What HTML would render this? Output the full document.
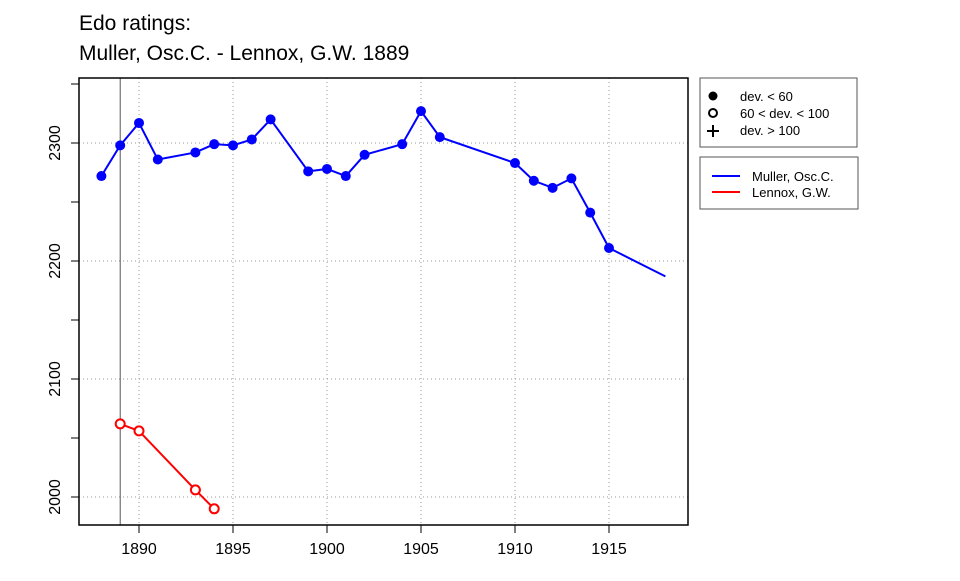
<!DOCTYPE html>
<html><head><meta charset="utf-8"><style>
body{margin:0;background:#fff;font-family:"Liberation Sans",Arial,sans-serif}
svg text{font-family:"Liberation Sans",Arial,sans-serif}
</style></head><body>
<svg id="chart" width="960" height="576" xmlns="http://www.w3.org/2000/svg">
<text x="79" y="30" font-size="21">Edo ratings:</text>
<text x="79" y="60" font-size="21">Muller, Osc.C. - Lennox, G.W. 1889</text>
<g id="grid"></g><g id="axes"></g><g id="series"></g>
<rect x="79" y="78" width="609" height="447" fill="none" stroke="#000" stroke-width="1.5"/>
<g>
<rect x="700" y="78" width="157" height="69" fill="#fff" stroke="#555"/>
<circle cx="713" cy="96" r="4.5" fill="#000"/>
<text x="740" y="101" font-size="13">dev. &lt; 60</text>
<circle cx="713" cy="113" r="4" fill="none" stroke="#000" stroke-width="2"/>
<text x="740" y="118" font-size="13">60 &lt; dev. &lt; 100</text>
<path d="M707 131H719M713 125V137" stroke="#000" stroke-width="2"/>
<text x="740" y="135" font-size="13">dev. &gt; 100</text>
</g>
<g>
<rect x="700" y="157" width="158" height="52" fill="#fff" stroke="#555"/>
<line x1="712" y1="176" x2="740" y2="176" stroke="#00f" stroke-width="2"/>
<text x="752" y="181" font-size="13">Muller, Osc.C.</text>
<line x1="712" y1="192" x2="740" y2="192" stroke="#f00" stroke-width="2"/>
<text x="752" y="197" font-size="13">Lennox, G.W.</text>
</g>
</svg>
<script>
const blueYears=[1888,1889,1890,1891,1893,1894,1895,1896,1897,1899,1900,1901,1902,1904,1905,1906,1910,1911,1912,1913,1914,1915,1918];
const blueVals=[2272,2298,2317,2286,2292,2299,2298,2303,2320,2276,2278,2272,2290,2299,2327,2305,2283,2268,2262,2270,2241,2211,2187];
const bluePoint=[1,1,1,1,1,1,1,1,1,1,1,1,1,1,1,1,1,1,1,1,1,1,0];
const redYears=[1889,1890,1893,1894];
const redVals=[2062,2056,2006,1990];
const xTicks=[1890,1895,1900,1905,1910,1915];
const yTicks=[2000,2100,2200,2300];
const eventYear=1889;
const X=y=>139+(y-1890)*18.8;
const Y=v=>497-(v-2000)*1.18;
const NS="http://www.w3.org/2000/svg";
function mk(p,t,a){const e=document.createElementNS(NS,t);for(const k in a)e.setAttribute(k,a[k]);p.appendChild(e);return e;}
const grid=document.getElementById('grid'),axes=document.getElementById('axes'),ser=document.getElementById('series');
xTicks.forEach(t=>{
 const g=mk(grid,'line',{x1:X(t),x2:X(t),y1:78,y2:525,stroke:'#999','stroke-dasharray':'1 3'});
 
 
 const tk=mk(axes,'line',{x1:X(t),x2:X(t),y1:525,y2:533,stroke:'#000'});
 
 
 const l=mk(axes,'text',{x:X(t),y:554,'font-size':16,'text-anchor':'middle'});l.textContent=t;
 
 
});
yTicks.forEach(t=>{
 const g=mk(grid,'line',{x1:79,x2:688,y1:Y(t),y2:Y(t),stroke:'#999','stroke-dasharray':'1 3'});
 
 
 const tk=mk(axes,'line',{x1:71,x2:79,y1:Y(t),y2:Y(t),stroke:'#000'});
 
 
 const l=mk(axes,'text',{x:60,y:Y(t),'font-size':16,'text-anchor':'middle',transform:`rotate(-90 60 ${Y(t)})`});l.textContent=t;
 
 
});
[2050,2150,2250,2350].forEach(t=>{const tk=mk(axes,'line',{x1:71,x2:79,y1:Y(t),y2:Y(t),stroke:'#000'});
 
 });
[1888,1889,1891,1892,1893,1894,1896,1897,1898,1899,1901,1902,1903,1904,1906,1907,1908,1909,1911,1912,1913,1914,1916,1917,1918].forEach(t=>{});
const ev=mk(ser,'line',{x1:X(eventYear),x2:X(eventYear),y1:78,y2:525,stroke:'#555'});


const bl=mk(ser,'polyline',{points:blueYears.map((y,i)=>X(y)+','+Y(blueVals[i])).join(' '),fill:'none',stroke:'#00f','stroke-width':2});


blueYears.forEach((y,i)=>{if(!bluePoint[i])return;
 const c=mk(ser,'circle',{cx:X(y),cy:Y(blueVals[i]),r:5,fill:'#00f'});
 
 });
const rl=mk(ser,'polyline',{points:redYears.map((y,i)=>X(y)+','+Y(redVals[i])).join(' '),fill:'none',stroke:'#f00','stroke-width':2});


redYears.forEach((y,i)=>{
 const c=mk(ser,'circle',{cx:X(y),cy:Y(redVals[i]),r:4.5,fill:'#fff',stroke:'#f00','stroke-width':2});
 
 });
</script>
</body></html>
